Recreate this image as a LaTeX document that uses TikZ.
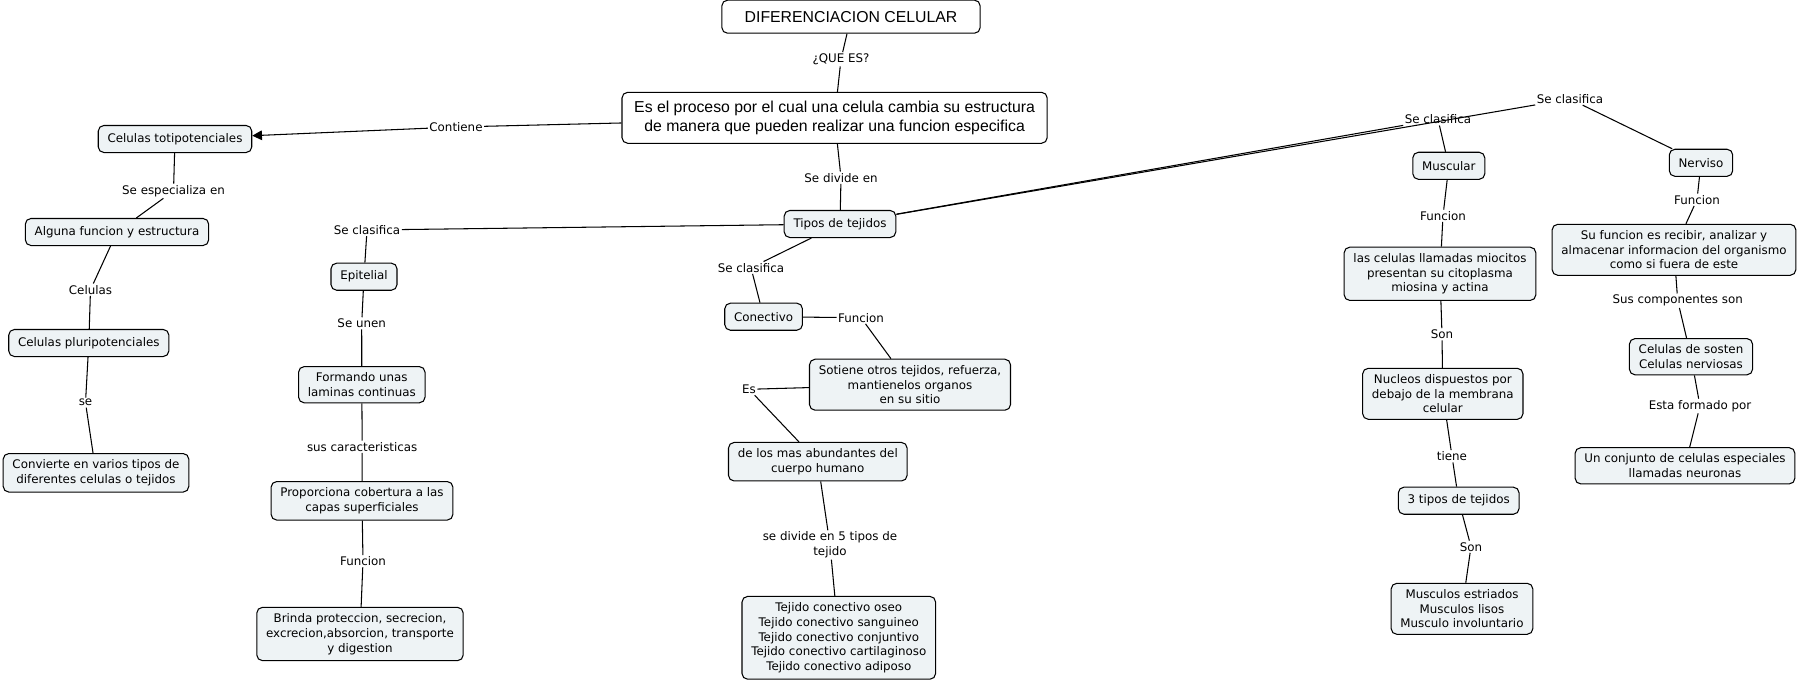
\documentclass[tikz,border=0pt]{standalone}
\usepackage{fontspec}
\setmainfont{DejaVu Sans}
\newfontfamily\arialfont{Liberation Sans}
\usetikzlibrary{arrows.meta}
\definecolor{boxfill}{RGB}{238,243,245}
\begin{document}
\begin{tikzpicture}[
    x=0.02cm, y=-0.02cm,
    line width=0.6pt,
    font=\fontsize{6.75}{8.4}\selectfont,
    cbox/.style={
        rectangle,
        rounded corners=3.2pt,
        draw,
        fill=boxfill,
        align=center,
        inner xsep=5.3pt,
        inner ysep=3.5pt,
        minimum height=15.4pt,
    },
    bigbox/.style={
        cbox,
        fill=white,
        font=\arialfont\fontsize{9}{10.8}\selectfont,
    },
    lbl/.style={
        align=center,
        inner sep=0.6pt,
    },
]

    \useasboundingbox (0,0) rectangle (1800,683);

    % title and definition
    \node[bigbox,minimum width=147pt,minimum height=18.8pt] (dif) at (851,16.7) {DIFERENCIACION CELULAR};
    \node[bigbox,minimum width=242pt,minimum height=29pt] (main) at (834.6,117.8) {Es el proceso por el cual una celula cambia su estructura\\de manera que pueden realizar una funcion especifica};

    % left branch
    \node[cbox] (totip)  at (175,139)   {Celulas totipotenciales};
    \node[cbox] (alguna) at (117,232)   {Alguna funcion y estructura};
    \node[cbox] (plurip) at (88.8,343)  {Celulas pluripotenciales};
    \node[cbox] (convierte) at (96,472.8) {Convierte en varios tipos de\\diferentes celulas o tejidos};

    % tejidos
    \node[cbox] (tipos) at (840,224) {Tipos de tejidos};

    \node[cbox] (epitelial)   at (364,276.7)   {Epitelial};
    \node[cbox] (formando)    at (361.8,384.7) {Formando unas\\laminas continuas};
    \node[cbox] (proporciona) at (362,500.8)   {Proporciona cobertura a las\\capas superficiales};
    \node[cbox] (brinda)      at (360,634)     {Brinda proteccion, secrecion,\\excrecion,absorcion, transporte\\y digestion};

    \node[cbox] (conectivo)  at (763.6,316.7) {Conectivo};
    \node[cbox] (sotiene)    at (910,384.7)   {Sotiene otros tejidos, refuerza,\\mantienelos organos\\en su sitio};
    \node[cbox] (abundantes) at (817.8,461.7) {de los mas abundantes del\\cuerpo humano};
    \node[cbox] (conlist)    at (838.8,637.8) {Tejido conectivo oseo\\Tejido conectivo sanguineo\\Tejido conectivo conjuntivo\\Tejido conectivo cartilaginoso\\Tejido conectivo adiposo};

    \node[cbox] (muscular) at (1448.8,165.8) {Muscular};
    \node[cbox] (miocitos) at (1440,273.8)   {las celulas llamadas miocitos\\presentan su citoplasma\\miosina y actina};
    \node[cbox] (nucleos)  at (1442.8,393.8) {Nucleos dispuestos por\\debajo de la membrana\\celular};
    \node[cbox] (tres)     at (1458.7,500.7) {3 tipos de tejidos};
    \node[cbox] (musculos) at (1462,608.8)   {Musculos estriados\\Musculos lisos\\Musculo involuntario};

    \node[cbox] (nerviso)   at (1701,162.8)  {Nerviso};
    \node[cbox] (sufuncion) at (1674,249.8)  {Su funcion es recibir, analizar y\\almacenar informacion del organismo\\como si fuera de este};
    \node[cbox] (sosten)    at (1691,356.7)  {Celulas de sosten\\Celulas nerviosas};
    \node[cbox] (conjunto)  at (1685,465.8)  {Un conjunto de celulas especiales\\llamadas neuronas};

    % linking phrases
    \node[lbl] (qes)      at (841,59.3)     {¿QUE ES?};
    \node[lbl] (contiene) at (456,127)      {Contiene};
    \node[lbl] (espec)    at (173.5,191)    {Se especializa en};
    \node[lbl] (cellbl)   at (90.5,289.7)   {Celulas};
    \node[lbl] (se)       at (85.5,402.7)   {se};
    \node[lbl] (divide)   at (841,177.7)    {Se divide en};
    \node[lbl] (clasA)    at (367,230)      {Se clasifica};
    \node[lbl] (unen)     at (361.7,323.3)  {Se unen};
    \node[lbl] (caract)   at (362.2,446.7)  {sus caracteristicas};
    \node[lbl] (funcE)    at (363,561.3)    {Funcion};
    \node[lbl] (clasB)    at (751,267.7)    {Se clasifica};
    \node[lbl] (funcC)    at (861,317.7)    {Funcion};
    \node[lbl] (es)       at (749,389.3)    {Es};
    \node[lbl] (divide5)  at (830,545)      {se divide en 5 tipos de\\tejido};
    \node[lbl] (clasM)    at (1438,119.3)   {Se clasifica};
    \node[lbl] (clasN)    at (1570,99)      {Se clasifica};
    \node[lbl] (funcM)    at (1443,215.7)   {Funcion};
    \node[lbl] (son1)     at (1442,334.3)   {Son};
    \node[lbl] (tiene)    at (1452,456.3)   {tiene};
    \node[lbl] (son2)     at (1471,546.7)   {Son};
    \node[lbl] (funcN)    at (1697,199.7)   {Funcion};
    \node[lbl] (comp)     at (1677.7,300.7) {Sus componentes son};
    \node[lbl] (formado)  at (1700,406)     {Esta formado por};

    % connectors
    \draw (dif) -- (qes) -- (main);
    \draw (main) -- (contiene);
    \draw[-{Triangle[length=5.5pt,width=5.5pt]}] (contiene) -- (totip);
    \draw (totip) -- (espec) -- (alguna);
    \draw (alguna) -- (cellbl) -- (plurip);
    \draw (plurip) -- (se) -- (convierte);
    \draw (main) -- (divide) -- (tipos);

    \draw (tipos) -- (clasA) -- (epitelial);
    \draw (epitelial) -- (unen) -- (formando);
    \draw (formando) -- (caract) -- (proporciona);
    \draw (proporciona) -- (funcE) -- (brinda);

    \draw (tipos) -- (clasB) -- (conectivo);
    \draw (conectivo) -- (funcC) -- (sotiene);
    \draw (sotiene) -- (es) -- (abundantes);
    \draw (abundantes) -- (divide5) -- (conlist);

    \draw (tipos) -- (clasM) -- (muscular);
    \draw (muscular) -- (funcM) -- (miocitos);
    \draw (miocitos) -- (son1) -- (nucleos);
    \draw (nucleos) -- (tiene) -- (tres);
    \draw (tres) -- (son2) -- (musculos);

    \draw (tipos) -- (clasN) -- (nerviso);
    \draw (nerviso) -- (funcN) -- (sufuncion);
    \draw (sufuncion) -- (comp) -- (sosten);
    \draw (sosten) -- (formado) -- (conjunto);

\end{tikzpicture}
\end{document}
